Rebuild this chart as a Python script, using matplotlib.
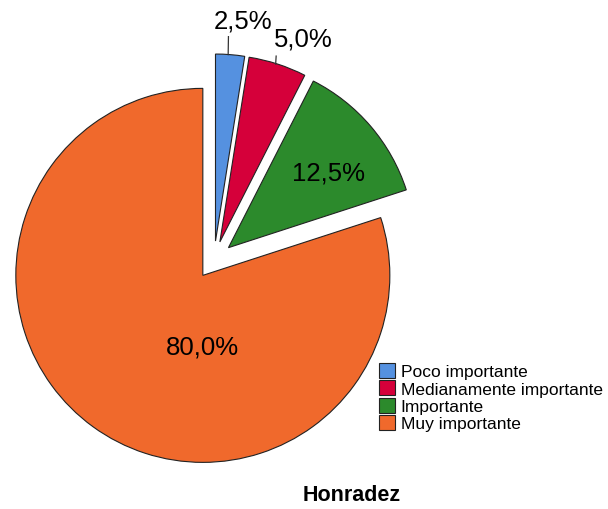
import numpy as np
import matplotlib.pyplot as plt

# Data
categories = ["Poco importante", "Medianamente importante", "Importante", "Muy importante"]
percentages = [2.5, 5.0, 12.5, 80.0]
colors = ["#5591E0", "#D5003A", "#2C8A2C", "#F0692C"]
chart_title = "Honradez"

plt.rcParams['font.family'] = ['Liberation Sans', 'DejaVu Sans']

# Figure laid out in pixel units (y up)
W, H = 608, 510
fig = plt.figure(figsize=(W / 100, H / 100), dpi=100)
ax = fig.add_axes([0, 0, 1, 1])

# explode is in data units here (radius is in pixels)
wedges, _ = ax.pie(percentages, colors=colors, startangle=90, counterclock=False,
                   explode=[19] * len(percentages), center=(214, H - 261), radius=187,
                   wedgeprops=dict(edgecolor="#222222", linewidth=0.8))
ax.set_xlim(0, W)
ax.set_ylim(0, H)
ax.set_aspect('equal')
ax.axis('off')

def pct_label(v):
    return f"{v:.1f}%".replace(".", ",")

# Leader lines for the two small slices
leader_len = [18, 8]
for i in range(2):
    w = wedges[i]
    ang = np.deg2rad((w.theta1 + w.theta2) / 2)
    cx, cy = w.center
    x0 = cx + w.r * np.cos(ang) - 2
    y0 = cy + w.r * np.sin(ang)
    x1 = x0 + leader_len[i] * np.cos(ang) * 0.2
    y1 = y0 + leader_len[i]
    ax.plot([x0, x1], [y0, y1], color="#333333", linewidth=0.9)

# Percentage labels
label_pos = [(243, 21), (303, 40), (328, 174), (202, 348)]
for v, (px, py) in zip(percentages, label_pos):
    ax.text(px, H - py, pct_label(v), fontsize=18.5, ha="center", va="center", color="black")

# Legend
ax.legend(wedges, categories, loc="upper left", bbox_to_anchor=(379 / W, 1 - 364 / H),
          frameon=False, fontsize=12.5, handlelength=0.95, handleheight=0.95,
          handletextpad=0.3, labelspacing=0.05, borderpad=0, borderaxespad=0)

ax.text(352, H - 496, chart_title, fontsize=15.5, fontweight="bold", ha="center", va="center")

plt.savefig("out.png", dpi=100)
